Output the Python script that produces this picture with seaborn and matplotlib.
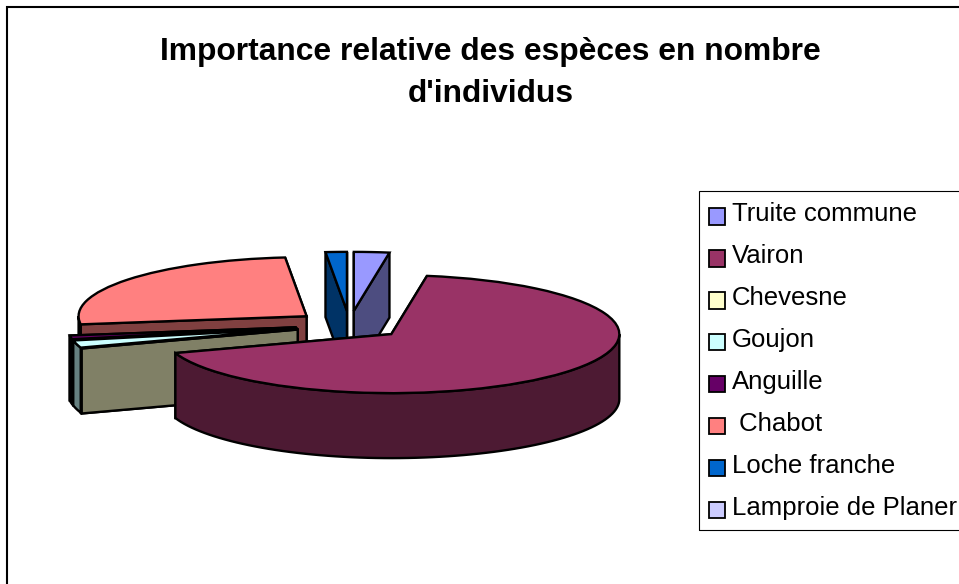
import numpy as np
import seaborn as sns
import matplotlib.pyplot as plt
from matplotlib.patches import Polygon, Rectangle

# values, in percent of individuals
especes = ['Truite commune', 'Vairon', 'Chevesne', 'Goujon', 'Anguille', ' Chabot', 'Loche franche', 'Lamproie de Planer']
valeurs = [2.5, 67.3, 0.0, 2.0, 1.0, 25.7, 1.5, 0.0]
couleurs = ['#9999FF', '#993366', '#FFFFCC', '#CCFFFF', '#660066', '#FF8080', '#0066CC', '#CCCCFF']
titre = "Importance relative des espèces en nombre\nd'individus"

W, H = 959, 584
EPAIS = 65 / 59  # height of the pie walls, in y data units
TRAIT = 1.7

sns.set_theme(style='white')
plt.rcParams['font.family'] = ['Liberation Sans', 'DejaVu Sans']

palette = sns.color_palette(couleurs)
fig = plt.figure(figsize=(W / 100, H / 100), dpi=100, facecolor='white')
ax = fig.add_axes([0, 0, 1, 1])

wedges, _ = ax.pie(valeurs, colors=palette, explode=[0.24] * len(valeurs), startangle=90,
                   counterclock=False, radius=1, wedgeprops=dict(edgecolor='black', linewidth=TRAIT))

# squash the pie to get the 3d look: 1 unit is 228 px across and 59 px high
ax.set_aspect('auto')
ax.set_xlim(-349.5 / 228, (W - 349.5) / 228)
ax.set_ylim((325 - H) / 59, 325 / 59)
ax.axis('off')


def point(w, angle):
    a = np.deg2rad(angle)
    return w.center[0] + w.r * np.cos(a), w.center[1] + w.r * np.sin(a)


def mur_coupe(w, angle, couleur, z):
    # flat cut face going from the apex to the rim
    x0, y0 = w.center
    x1, y1 = point(w, angle)
    pts = [(x0, y0), (x1, y1), (x1, y1 - EPAIS), (x0, y0 - EPAIS)]
    ax.add_patch(Polygon(pts, closed=True, facecolor=couleur, edgecolor='black', linewidth=TRAIT, zorder=z))


def mur_arc(w, couleur, z):
    # rim wall, only the part that faces the viewer
    a1 = max(w.theta1, -180)
    a2 = min(w.theta2, 0)
    if a2 <= a1:
        return
    angles = np.linspace(a1, a2, 80)
    haut = [point(w, a) for a in angles]
    bas = [(x, y - EPAIS) for x, y in haut][::-1]
    ax.add_patch(Polygon(haut + bas, closed=True, facecolor=couleur, edgecolor='black', linewidth=TRAIT, zorder=z))


# draw from the back to the front
ordre = sorted(range(len(wedges)), key=lambda i: -wedges[i].center[1])
for rang, i in enumerate(ordre):
    w = wedges[i]
    # an empty slice at the back of the pie shows nothing
    if valeurs[i] == 0 and w.center[1] > 0:
        continue
    sombre = tuple(c * 0.5 for c in palette[i])
    z = 10 + rang * 10
    coupes = sorted([w.theta1, w.theta2], key=lambda a: -np.sin(np.deg2rad(a)))
    mur_coupe(w, coupes[0], sombre, z)
    mur_coupe(w, coupes[1], sombre, z + 1)
    mur_arc(w, sombre, z + 2)
    w.set_zorder(z + 3)

fig.text(490.5 / W, 1 - 73 / H, titre, ha='center', va='center', fontsize=22.9, fontweight='bold',
         color='black', linespacing=1.53)

# chart frame, cropped by the image on the right and at the bottom
fig.add_artist(Rectangle((7 / W, -0.05), 1.1, 1.05 - 7 / H, transform=fig.transFigure,
                         fill=False, edgecolor='black', linewidth=1.5))
fig.add_artist(Rectangle((699 / W, 1 - 530 / H), 0.5, 339 / H, transform=fig.transFigure,
                         fill=False, edgecolor='black', linewidth=0.8))

leg = ax.legend(wedges, especes, loc='upper left', bbox_to_anchor=(709 / W, 1 - 202 / H),
                bbox_transform=fig.transFigure, frameon=False, fontsize=18.5, labelcolor='black',
                handlelength=0.63, handleheight=0.63, handletextpad=0.27, labelspacing=0.7,
                borderpad=0, borderaxespad=0)
leg.set_zorder(200)
for h in leg.get_patches():
    h.set_linewidth(1.3)
    h.set_y(h.get_y() - 3)

for i, w in enumerate(wedges):
    if valeurs[i] == 0 and w.center[1] > 0:
        w.set_visible(False)

fig.savefig('out.png', dpi=100)
